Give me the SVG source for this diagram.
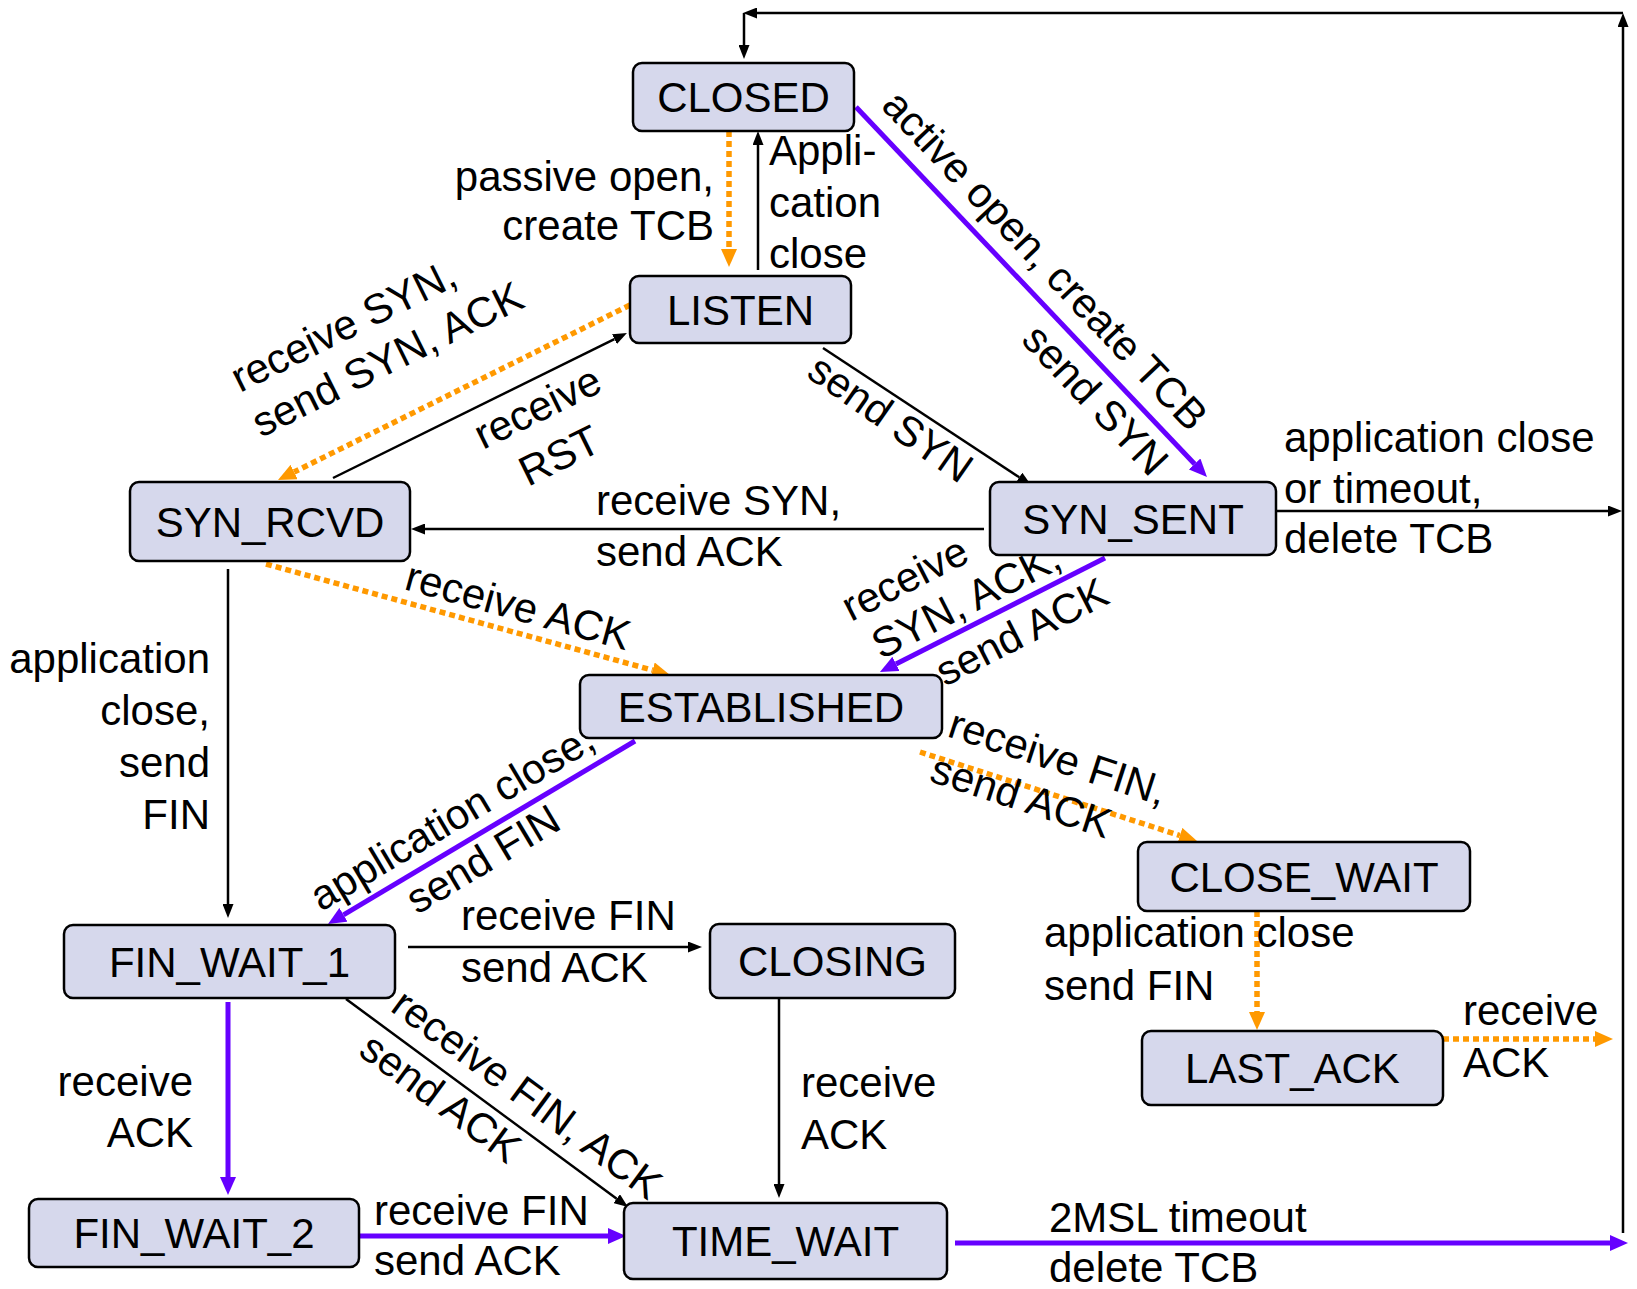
<svg xmlns="http://www.w3.org/2000/svg" width="1637" height="1289" viewBox="0 0 1637 1289">
<style>
.node rect{fill:#D6D8EC;stroke:#000;stroke-width:2.5}
.node text{font-family:"Liberation Sans",Arial,sans-serif;font-size:42px;fill:#000;text-anchor:middle}
.lbl{font-family:"Liberation Sans",Arial,sans-serif;font-size:42px;fill:#000}
.end{text-anchor:end}
.blk{stroke:#000;stroke-width:2.5;fill:none}
.pur{stroke:#6600FF;stroke-width:5;fill:none}
.org{stroke:#FF9900;stroke-width:5.5;fill:none;stroke-dasharray:6 4}
</style>
<defs>
<marker id="ab" markerWidth="14" markerHeight="11" refX="0" refY="5.5" orient="auto" markerUnits="userSpaceOnUse" viewBox="0 0 14 11"><path d="M0,0 L14,5.5 L0,11 z" fill="#000"/></marker>
<marker id="ap" markerWidth="18" markerHeight="16" refX="0" refY="8" orient="auto" markerUnits="userSpaceOnUse" viewBox="0 0 18 16"><path d="M0,0 L18,8 L0,16 z" fill="#6600FF"/></marker>
<marker id="ao" markerWidth="18" markerHeight="16" refX="0" refY="8" orient="auto" markerUnits="userSpaceOnUse" viewBox="0 0 18 16"><path d="M0,0 L18,8 L0,16 z" fill="#FF9900"/></marker>
</defs>
<rect x="0" y="0" width="1637" height="1289" fill="#fff"/>
<g id="connectors">
<line class="blk" x1="1623" y1="1233" x2="1623" y2="27" marker-end="url(#ab)"/>
<line class="blk" x1="1623" y1="13" x2="757" y2="13" marker-end="url(#ab)"/>
<line class="blk" x1="744" y1="13" x2="744" y2="45" marker-end="url(#ab)"/>
<line class="org" x1="729" y1="131" x2="729" y2="249" marker-end="url(#ao)"/>
<line class="blk" x1="758" y1="270" x2="758" y2="145" marker-end="url(#ab)"/>
<line class="pur" x1="856" y1="107" x2="1194.6" y2="464" marker-end="url(#ap)"/>
<line class="blk" x1="823" y1="348" x2="1019.3" y2="477.3" marker-end="url(#ab)"/>
<line class="org" x1="630" y1="305" x2="294.1" y2="472" marker-end="url(#ao)"/>
<line class="blk" x1="333" y1="478" x2="614.4" y2="339.2" marker-end="url(#ab)"/>
<line class="blk" x1="984" y1="529" x2="425" y2="529" marker-end="url(#ab)"/>
<line class="blk" x1="1276" y1="511" x2="1608" y2="511" marker-end="url(#ab)"/>
<line class="org" x1="266" y1="564" x2="652.6" y2="670.2" marker-end="url(#ao)"/>
<line class="pur" x1="1105" y1="558" x2="896" y2="663.9" marker-end="url(#ap)"/>
<line class="blk" x1="228" y1="569" x2="228" y2="904" marker-end="url(#ab)"/>
<line class="pur" x1="635" y1="741" x2="343.5" y2="914.8" marker-end="url(#ap)"/>
<line class="org" x1="920" y1="752" x2="1179.9" y2="835.5" marker-end="url(#ao)"/>
<line class="org" x1="1257" y1="911" x2="1257" y2="1012" marker-end="url(#ao)"/>
<line class="org" x1="1443" y1="1039" x2="1595" y2="1039" marker-end="url(#ao)"/>
<line class="blk" x1="408" y1="947" x2="688" y2="947" marker-end="url(#ab)"/>
<line class="pur" x1="228" y1="1002" x2="228" y2="1177" marker-end="url(#ap)"/>
<line class="blk" x1="346" y1="999" x2="616.7" y2="1198.7" marker-end="url(#ab)"/>
<line class="blk" x1="779" y1="998" x2="779" y2="1184" marker-end="url(#ab)"/>
<line class="pur" x1="359" y1="1236" x2="608" y2="1236" marker-end="url(#ap)"/>
<line class="pur" x1="955" y1="1243" x2="1610" y2="1243" marker-end="url(#ap)"/>
</g>
<g id="labels">
<text class="lbl end" x="714" y="191">passive open,</text>
<text class="lbl end" x="714" y="240">create TCB</text>
<text class="lbl" x="769" y="165">Appli-</text>
<text class="lbl" x="769" y="217">cation</text>
<text class="lbl" x="769" y="268">close</text>
<text class="lbl" transform="translate(880,107) rotate(46.5)">active open, create TCB</text>
<text class="lbl" transform="translate(1020,341) rotate(46.5)">send SYN</text>
<text class="lbl" transform="translate(805,376) rotate(35)">send SYN</text>
<text class="lbl" transform="translate(240,393) rotate(-26.4)">receive SYN,</text>
<text class="lbl" transform="translate(261,438) rotate(-26.4)">send SYN, ACK</text>
<text class="lbl" transform="translate(483,450) rotate(-26.2)">receive</text>
<text class="lbl" transform="translate(528,487) rotate(-26.2)">RST</text>
<text class="lbl" x="596" y="515">receive SYN,</text>
<text class="lbl" x="596" y="566">send ACK</text>
<text class="lbl" x="1284" y="452">application close</text>
<text class="lbl" x="1284" y="503">or timeout,</text>
<text class="lbl" x="1284" y="553">delete TCB</text>
<text class="lbl" transform="translate(403,589) rotate(15.4)">receive ACK</text>
<text class="lbl" transform="translate(851,622) rotate(-27)">receive</text>
<text class="lbl" transform="translate(881,660) rotate(-27)">SYN, ACK,</text>
<text class="lbl" transform="translate(945,687) rotate(-27)">send ACK</text>
<text class="lbl end" x="210" y="673">application</text>
<text class="lbl end" x="210" y="725">close,</text>
<text class="lbl end" x="210" y="777">send</text>
<text class="lbl end" x="210" y="829">FIN</text>
<text class="lbl" transform="translate(321,912) rotate(-30.8)">application close,</text>
<text class="lbl" transform="translate(417,915) rotate(-30.8)">send FIN</text>
<text class="lbl" transform="translate(946,736) rotate(18)">receive FIN,</text>
<text class="lbl" transform="translate(928,781) rotate(18)">send ACK</text>
<text class="lbl" x="461" y="930">receive FIN</text>
<text class="lbl" x="461" y="982">send ACK</text>
<text class="lbl" x="1044" y="947">application close</text>
<text class="lbl" x="1044" y="1000">send FIN</text>
<text class="lbl" x="1463" y="1025">receive</text>
<text class="lbl" x="1463" y="1077">ACK</text>
<text class="lbl" transform="translate(389,1010) rotate(36.4)">receive FIN, ACK</text>
<text class="lbl" transform="translate(357,1054) rotate(36.4)">send ACK</text>
<text class="lbl end" x="193" y="1096">receive</text>
<text class="lbl end" x="193" y="1147">ACK</text>
<text class="lbl" x="801" y="1097">receive</text>
<text class="lbl" x="801" y="1149">ACK</text>
<text class="lbl" x="374" y="1225">receive FIN</text>
<text class="lbl" x="374" y="1275">send ACK</text>
<text class="lbl" x="1049" y="1232">2MSL timeout</text>
<text class="lbl" x="1049" y="1282">delete TCB</text>
</g>
<g id="CLOSED" class="node"><rect x="633" y="63" width="221" height="68" rx="9"/><text x="743.5" y="112">CLOSED</text></g>
<g id="LISTEN" class="node"><rect x="630" y="276" width="221" height="67" rx="9"/><text x="740.5" y="324.5">LISTEN</text></g>
<g id="SYN_RCVD" class="node"><rect x="130" y="482" width="280" height="79" rx="9"/><text x="270" y="536.5">SYN_RCVD</text></g>
<g id="SYN_SENT" class="node"><rect x="990" y="482" width="286" height="73" rx="9"/><text x="1133" y="533.5">SYN_SENT</text></g>
<g id="ESTABLISHED" class="node"><rect x="580" y="675" width="362" height="63" rx="9"/><text x="761" y="721.5">ESTABLISHED</text></g>
<g id="CLOSE_WAIT" class="node"><rect x="1138" y="842" width="332" height="69" rx="9"/><text x="1304" y="891.5">CLOSE_WAIT</text></g>
<g id="FIN_WAIT_1" class="node"><rect x="64" y="925" width="331" height="73" rx="9"/><text x="229.5" y="976.5">FIN_WAIT_1</text></g>
<g id="CLOSING" class="node"><rect x="710" y="924" width="245" height="74" rx="9"/><text x="832.5" y="976">CLOSING</text></g>
<g id="LAST_ACK" class="node"><rect x="1142" y="1031" width="301" height="74" rx="9"/><text x="1292.5" y="1083">LAST_ACK</text></g>
<g id="FIN_WAIT_2" class="node"><rect x="29" y="1199" width="330" height="68" rx="9"/><text x="194" y="1248">FIN_WAIT_2</text></g>
<g id="TIME_WAIT" class="node"><rect x="624" y="1203" width="323" height="76" rx="9"/><text x="785.5" y="1256">TIME_WAIT</text></g>
</svg>
